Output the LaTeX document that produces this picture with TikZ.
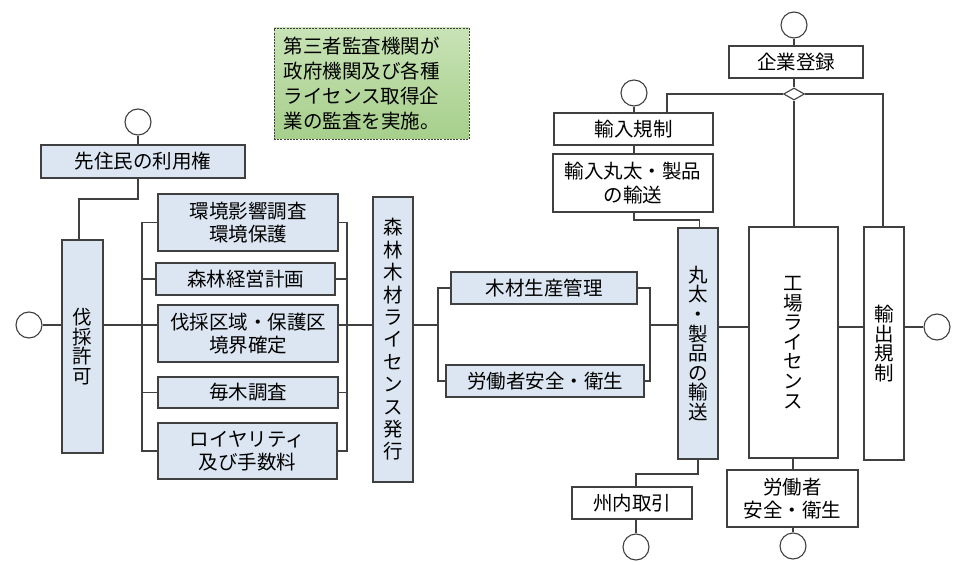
\documentclass[tikz,border=0pt]{standalone}
\usepackage{fontspec}
\newfontfamily\jp{Noto Sans CJK JP}
\usetikzlibrary{shapes.geometric}
\definecolor{lc}{HTML}{404040}
\definecolor{bfill}{HTML}{DCE6F2}
\definecolor{gtop}{HTML}{C8E3B6}
\definecolor{gbot}{HTML}{A6CF8B}
\begin{document}
\begin{tikzpicture}[x=1bp,y=-1bp,
  box/.style={draw=lc, line width=1.1bp, inner sep=0pt, align=center,
    font=\jp\fontsize{19.5bp}{23.5bp}\selectfont},
  bluebox/.style={box, fill=bfill},
  whitebox/.style={box, fill=white},
  vtext/.style={font=\jp\fontsize{19.5bp}{19.6bp}\selectfont},
  circ/.style={circle, draw=lc, line width=1.1bp, minimum size=26bp, inner sep=0pt, fill=white},
  conn/.style={draw=lc, line width=1.1bp}
]
\useasboundingbox (0,0) rectangle (960,565);
\fill[white] (0,0) rectangle (960,565);

% green note
\node[draw=lc, line width=0.8bp, dash pattern=on 2bp off 1.2bp,
  top color=gtop, bottom color=gbot,
  minimum width=195bp, minimum height=111bp, inner sep=0pt,
  text width=176bp, align=left,
  font=\jp\fontsize{19.5bp}{25bp}\selectfont] (note) at (371.5,83.5)
  {第三者監査機関が\\政府機関及び各種\\ライセンス取得企\\業の監査を実施。};

% left part
\node[bluebox, minimum width=204bp, minimum height=33bp] (senju) at (143,161.5) {先住民の利用権};
\node[bluebox, vtext, minimum width=41bp, minimum height=213bp] (bassai) at (82.5,346.5) {伐\\採\\許\\可};
\node[bluebox, minimum width=180bp, minimum height=57bp] (kankyo) at (248,222.5) {環境影響調査\\環境保護};
\node[bluebox, minimum width=179bp, minimum height=32bp] (keiei) at (245.5,279) {森林経営計画};
\node[bluebox, minimum width=180bp, minimum height=57bp] (kuiki) at (248,333.5) {伐採区域・保護区\\境界確定};
\node[bluebox, minimum width=180bp, minimum height=31bp] (maiboku) at (248,392.5) {毎木調査};
\node[bluebox, minimum width=179bp, minimum height=56bp] (royalty) at (247.5,451) {ロイヤリティ\\及び手数料};
\node[bluebox, font=\jp\fontsize{19.5bp}{22.4bp}\selectfont, minimum width=40bp, minimum height=285bp] (license) at (393,339.5)
  {森\\林\\木\\材\\ラ\\イ\\セ\\ン\\ス\\発\\行};
\node[bluebox, minimum width=186bp, minimum height=32bp] (mokuzai) at (544,288) {木材生産管理};
\node[bluebox, minimum width=198bp, minimum height=32bp] (rodo) at (545,381) {労働者安全・衛生};

% right part
\node[bluebox, vtext, minimum width=40bp, minimum height=231bp] (maruta) at (698,343.5) {丸\\太\\・\\製\\品\\の\\輸\\送};
\node[whitebox, minimum width=159bp, minimum height=32bp] (ykisei) at (633.5,129) {輸入規制};
\node[whitebox, minimum width=160bp, minimum height=58bp] (ymaruta) at (633,183) {輸入丸太・製品\\の輸送};
\node[whitebox, minimum width=134bp, minimum height=32bp] (kigyo) at (796,62) {企業登録};
\node[whitebox, vtext, minimum width=89bp, minimum height=231bp] (kojo) at (793.5,342.5) {工\\場\\ラ\\イ\\セ\\ン\\ス};
\node[whitebox, vtext, minimum width=40bp, minimum height=233bp] (yushutsu) at (884,343.5) {輸\\出\\規\\制};
\node[whitebox, minimum width=120bp, minimum height=32bp] (shunai) at (632,503) {州内取引};
\node[whitebox, minimum width=131bp, minimum height=57bp] (rodo2) at (792.5,498.5) {労働者\\安全・衛生};
\node[diamond, draw=lc, line width=1.1bp, fill=white, inner sep=0pt, aspect=1.75,
  minimum width=21bp, minimum height=12bp] (dia) at (794,94) {};

% circles
\node[circ] (c1) at (138,122) {};
\node[circ] (c2) at (29,325) {};
\node[circ] (c3) at (634,93) {};
\node[circ] (c4) at (794,25) {};
\node[circ] (c5) at (937,327) {};
\node[circ] (c6) at (636,547) {};
\node[circ] (c7) at (793,546) {};

% bus coordinates
\coordinate (bl) at (142,0);
\coordinate (br) at (347,0);
\coordinate (bm) at (438,0);
\coordinate (bn) at (650,0);
\coordinate (ml) at (0,325);
\coordinate (mr) at (0,327);

% left connectors
\draw[conn] (c1.south) -- (c1.south |- senju.north);
\draw[conn] (c1.south |- senju.south) -- (c1.south |- 0,199) -| ([xshift=-3.5bp]bassai.north);
\draw[conn] (c2.east) -- (bassai.west |- c2.east);
\draw[conn] (bassai.east |- ml) -- (kuiki.west |- ml);
\draw[conn] (kankyo.west) -| (bl |- royalty.west) -- (royalty.west);
\draw[conn] (keiei.west) -- (bl |- keiei.west);
\draw[conn] (maiboku.west) -- (bl |- maiboku.west);
\draw[conn] (kankyo.east) -| (br |- royalty.east) -- (royalty.east);
\draw[conn] (keiei.east) -- (br |- keiei.east);
\draw[conn] (maiboku.east) -- (br |- maiboku.east);
\draw[conn] (kuiki.east |- ml) -- (license.west |- ml);
\draw[conn] (license.east |- ml) -- (bm |- ml);
\draw[conn] (mokuzai.west) -| (bm |- rodo.west) -- (rodo.west);
\draw[conn] (mokuzai.east) -| (bn |- rodo.east) -- (rodo.east);
\draw[conn] (bn |- ml) -- (maruta.west |- ml);

% right connectors
\draw[conn] (maruta.east |- mr) -- (kojo.west |- mr);
\draw[conn] (kojo.east |- mr) -- (yushutsu.west |- mr);
\draw[conn] (yushutsu.east |- mr) -- (c5.west);
\draw[conn] (c4.south) -- (c4.south |- kigyo.north);
\draw[conn] (c4.south |- kigyo.south) -- (dia.north);
\draw[conn] (dia.south) -- (dia.south |- kojo.north);
\draw[conn] (dia.east) -| ([xshift=-1bp]yushutsu.north);
\draw[conn] (dia.west) -| ([xshift=33.5bp]ykisei.north);
\draw[conn] (c3.south) -- (c3.south |- ykisei.north);
\draw[conn] (c3.south |- ykisei.south) -- (c3.south |- ymaruta.north);
\draw[conn] (c3.south |- ymaruta.south) -- (c3.south |- 0,220) -| ([xshift=1.5bp]maruta.north);
\draw[conn] (maruta.south) -- (maruta.south |- 0,474) -| (c6.north |- shunai.north);
\draw[conn] (c6.north |- shunai.south) -- (c6.north);
\draw[conn] (kojo.south -| c7.north) -- (c7.north |- rodo2.north);
\draw[conn] (c7.north |- rodo2.south) -- (c7.north);
\end{tikzpicture}
\end{document}
